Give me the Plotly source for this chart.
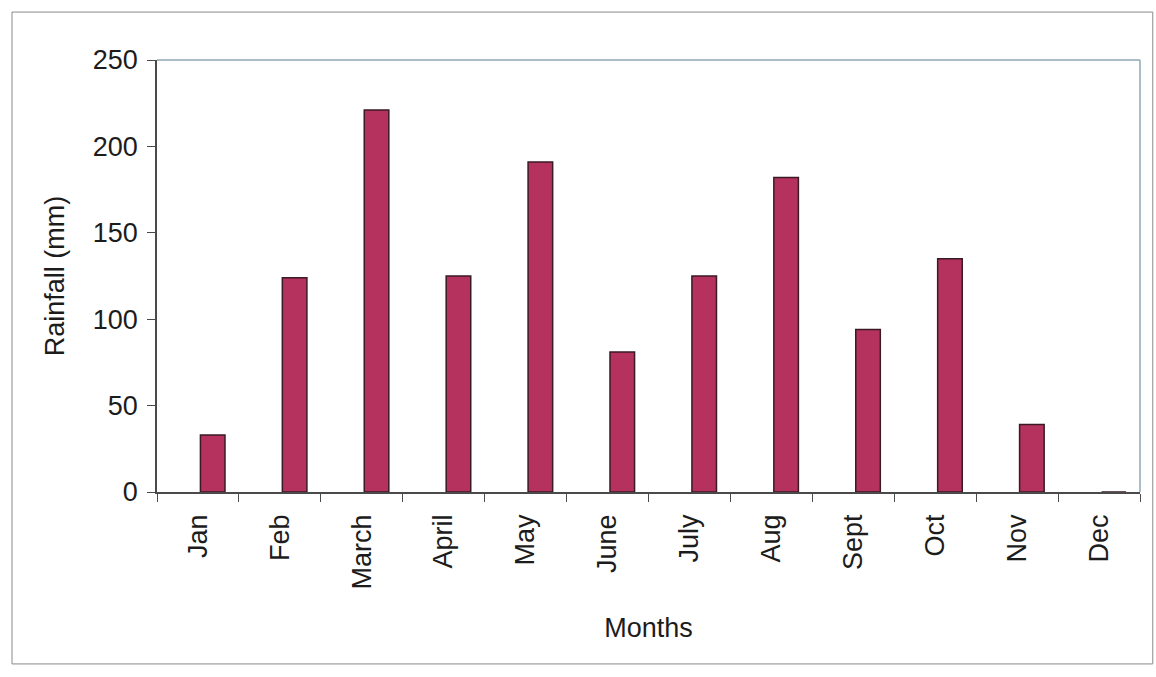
import plotly.graph_objects as go

months = ["Jan", "Feb", "March", "April", "May", "June", "July", "Aug", "Sept", "Oct", "Nov", "Dec"]
rainfall_mm = [33, 124, 221, 125, 191, 81, 125, 182, 94, 135, 39, 0]
y_ticks = [0, 50, 100, 150, 200, 250]

FONT = "Liberation Sans, Arial, sans-serif"
TEXT = "#1c1c1c"
AXIS_DARK = "#4a4a4a"
FRAME = "#8fa9b5"

fig = go.Figure(
    go.Bar(
        x=months,
        y=rainfall_mm,
        width=0.3,
        offset=0.03,  # bars sit just right of each category centre
        marker=dict(color="#b5325f", line=dict(color="#3a1a26", width=1.5)),
    )
)

fig.update_layout(
    width=1156,
    height=677,
    paper_bgcolor="white",
    plot_bgcolor="white",
    showlegend=False,
    margin=dict(l=157, r=16, t=60, b=185),
    font=dict(family=FONT, color=TEXT),
    shapes=[
        # page frame around the whole chart
        dict(type="rect", xref="paper", yref="paper", x0=-0.1475, x1=1.013, y0=-0.398, y1=1.111,
             line=dict(color="#8a8a8a", width=1)),
        # light frame on top and right of the plot area
        dict(type="line", xref="paper", yref="paper", x0=0, x1=1, y0=1, y1=1,
             line=dict(color=FRAME, width=1.5)),
        dict(type="line", xref="paper", yref="paper", x0=1, x1=1, y0=0, y1=1,
             line=dict(color=FRAME, width=1.5)),
    ],
)

fig.update_xaxes(
    title=dict(text="Months", font=dict(size=27, family=FONT, color=TEXT), standoff=30),
    tickangle=-90,
    tickfont=dict(size=27, family=FONT, color=TEXT),
    ticklabelstandoff=10,
    ticks="outside",
    tickson="boundaries",
    ticklen=8,
    tickcolor=AXIS_DARK,
    showline=True,
    linecolor=AXIS_DARK,
    linewidth=1.5,
    showgrid=False,
)

fig.update_yaxes(
    title=dict(text="Rainfall (mm)", font=dict(size=27, family=FONT, color=TEXT), standoff=20),
    range=[0, 250],
    tickvals=y_ticks,
    tickfont=dict(size=27, family=FONT, color=TEXT),
    ticklabelstandoff=4,
    ticks="outside",
    ticklen=8,
    tickcolor=AXIS_DARK,
    showline=True,
    linecolor=AXIS_DARK,
    linewidth=1.5,
    showgrid=False,
    zeroline=False,
)

fig.write_html("out.html")
